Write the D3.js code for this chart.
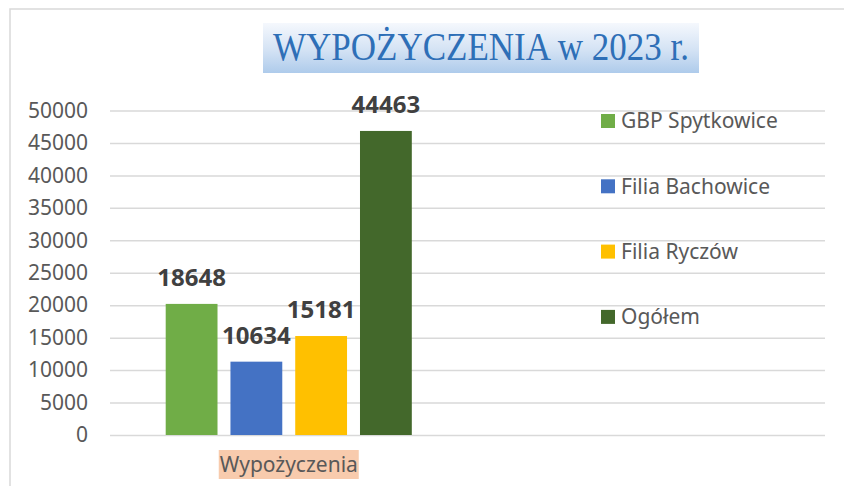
<!DOCTYPE html>
<html>
<head>
<meta charset="utf-8">
<script src="https://cdn.jsdelivr.net/npm/d3@7"></script>
<style>
    body { margin: 0; background: #fff; }
    text { font-family: "Noto Sans", "Open Sans", sans-serif; }
    .grid line { stroke: #d9d9d9; stroke-width: 1.5px; }
    .grid text { fill: #595959; font-size: 21px; }
    .label { fill: #404040; font-size: 24px; font-weight: bold; }
    .legend text { fill: #595959; font-size: 21px; }
</style>
</head>
<body>
<div id="chart"></div>
<script>
    // data
    var categories = ["Wypożyczenia", ""];
    var series = ["GBP Spytkowice", "Filia Bachowice", "Filia Ryczów", "Ogółem"];
    var values = [20200, 11300, 15250, 46850];       // bar heights as drawn
    var labels = ["18648", "10634", "15181", "44463"]; // data labels as printed
    var colors = ["#70ad47", "#4472c4", "#ffc000", "#43682b"];
    var yTicks = [0, 5000, 10000, 15000, 20000, 25000, 30000, 35000, 40000, 45000, 50000];
    var title = "WYPOŻYCZENIA w 2023 r.";

    var width = 844, height = 486;
    var plot = { left: 110, right: 825, top: 110.5, bottom: 435 };

    var svg = d3.select("#chart").append("svg")
        .attr("width", width)
        .attr("height", height);

    // outer chart border
    svg.append("rect")
        .attr("x", 10).attr("y", 9)
        .attr("width", 900).attr("height", 600)
        .attr("fill", "#fff")
        .attr("stroke", "#d9d9d9")
        .attr("stroke-width", 1.5);

    // title with gradient box
    var grad = svg.append("defs").append("linearGradient")
        .attr("id", "titleGrad")
        .attr("x1", 0).attr("y1", 0).attr("x2", 0).attr("y2", 1);
    grad.append("stop").attr("offset", "0%").attr("stop-color", "#f5f8fd");
    grad.append("stop").attr("offset", "55%").attr("stop-color", "#d3e2f4");
    grad.append("stop").attr("offset", "100%").attr("stop-color", "#aecbeb");

    svg.append("rect")
        .attr("x", 263).attr("y", 23)
        .attr("width", 436).attr("height", 50)
        .attr("fill", "url(#titleGrad)");

    svg.append("text")
        .attr("x", 273).attr("y", 60)
        .attr("textLength", 416)
        .attr("lengthAdjust", "spacingAndGlyphs")
        .style("font-family", "'Liberation Serif', 'DejaVu Serif', serif")
        .style("font-size", "39px")
        .style("fill", "#2e6fb7")
        .text(title);

    var y = d3.scaleLinear()
        .domain([0, 50000])
        .range([plot.bottom, plot.top]);

    var x0 = d3.scaleBand()
        .domain(categories)
        .range([plot.left, plot.right])
        .padding(0);

    var x1 = d3.scaleBand()
        .domain(series)
        .range([0, x0.bandwidth()])
        .paddingInner(0.2)
        .paddingOuter(0.86);

    var grid = svg.append("g")
        .attr("class", "grid")
        .attr("transform", "translate(" + plot.left + ",0)")
        .call(d3.axisLeft(y)
            .tickValues(yTicks)
            .tickSize(-(plot.right - plot.left))
            .tickPadding(22)
            .tickFormat(d3.format("d")));
    grid.select(".domain").remove();

    var group = svg.append("g")
        .attr("transform", "translate(" + x0(categories[0]) + ",0)");

    group.selectAll("rect.bar")
        .data(series)
        .enter().append("rect")
        .attr("class", "bar")
        .attr("x", function (d) { return x1(d); })
        .attr("y", function (d, i) { return y(values[i]); })
        .attr("width", x1.bandwidth())
        .attr("height", function (d, i) { return y(0) - y(values[i]); })
        .attr("fill", function (d, i) { return colors[i]; });

    group.selectAll("text.label")
        .data(series)
        .enter().append("text")
        .attr("class", "label")
        .attr("x", function (d) { return x1(d) + x1.bandwidth() / 2; })
        .attr("y", function (d, i) { return y(values[i]) - 18; })
        .attr("text-anchor", "middle")
        .text(function (d, i) { return labels[i]; });

    // category label with shaded background
    var cx = x0(categories[0]) + x0.bandwidth() / 2;
    var catBg = svg.append("rect").attr("fill", "#f8cbad");
    var cat = svg.append("text")
        .attr("x", cx).attr("y", 465)
        .attr("dy", "0.35em")
        .attr("text-anchor", "middle")
        .style("font-size", "21px")
        .style("fill", "#595959")
        .text(categories[0]);
    var bb = cat.node().getBBox();
    catBg.attr("x", cx - 70).attr("y", 450)
        .attr("width", 140).attr("height", 29);

    // legend
    var legend = svg.append("g")
        .attr("class", "legend")
        .selectAll("g")
        .data(series)
        .enter().append("g")
        .attr("transform", function (d, i) { return "translate(601," + (121 + i * 65.3) + ")"; });

    legend.append("rect")
        .attr("x", 0).attr("y", -7)
        .attr("width", 14).attr("height", 14)
        .attr("fill", function (d, i) { return colors[i]; });

    legend.append("text")
        .attr("x", 20)
        .attr("dy", "0.35em")
        .text(function (d) { return d; });
</script>
</body>
</html>
